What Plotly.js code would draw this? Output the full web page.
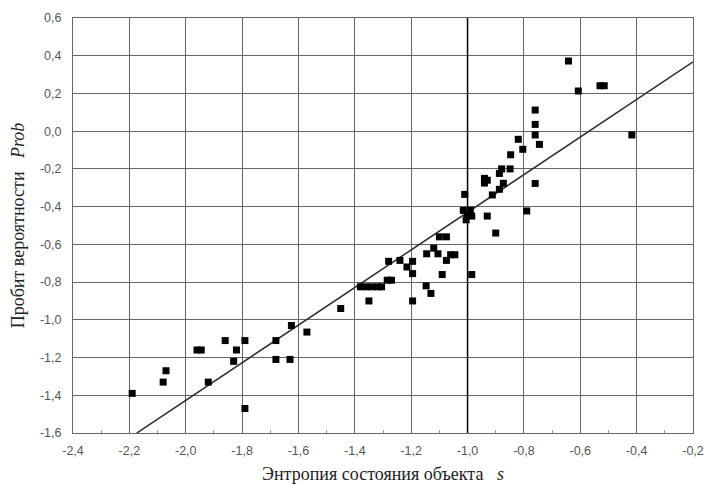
<!DOCTYPE html>
<html>
<head>
<meta charset="utf-8">
<script src="https://cdn.plot.ly/plotly-3.0.1.min.js"></script>
<style>
html,body{margin:0;padding:0;background:#fff;}
#chart{width:706px;height:484px;}
</style>
</head>
<body>
<div id="chart"></div>
<script>
// Entropy of object state s
const entropyS = [
  -2.19, -2.08, -2.07, -1.96, -1.945, -1.92, -1.86, -1.83, -1.82, -1.79,
  -1.79, -1.68, -1.68, -1.63, -1.625, -1.57, -1.45, -1.35, -1.38, -1.36,
  -1.34, -1.32, -1.305, -1.285, -1.27, -1.28, -1.24, -1.215, -1.195, -1.195,
  -1.195, -1.145, -1.105, -1.12, -1.10, -1.075, -1.075, -1.06, -1.045, -1.09,
  -1.147, -1.13, -0.985, -1.01, -1.015, -1.0, -0.99, -0.985, -1.005, -0.93,
  -0.90, -0.94, -0.94, -0.93, -0.912, -0.887, -0.873, -0.887, -0.879, -0.849,
  -0.847, -0.804, -0.82, -0.76, -0.76, -0.76, -0.745, -0.76, -0.79, -0.642,
  -0.607, -0.53, -0.515, -0.417
];
// Probit of probability Prob
const probitProb = [
  -1.39, -1.33, -1.27, -1.16, -1.16, -1.33, -1.11, -1.22, -1.16, -1.11,
  -1.47, -1.11, -1.21, -1.21, -1.03, -1.065, -0.94, -0.90, -0.825, -0.825,
  -0.825, -0.825, -0.825, -0.79, -0.79, -0.69, -0.685, -0.72, -0.69, -0.755,
  -0.90, -0.65, -0.65, -0.62, -0.56, -0.56, -0.685, -0.655, -0.655, -0.76,
  -0.82, -0.86, -0.76, -0.335, -0.42, -0.44, -0.42, -0.45, -0.47, -0.45,
  -0.54, -0.25, -0.275, -0.26, -0.338, -0.308, -0.276, -0.224, -0.20, -0.20,
  -0.125, -0.096, -0.043, 0.112, 0.036, -0.02, -0.07, -0.277, -0.423, 0.372,
  0.213, 0.241, 0.241, -0.02
];
// Regression line parameters
const fitSlope = 0.997;
const fitIntercept = 0.567;
const fitRange = [-2.174, -0.2];

// Tick values and labels
const xTickVals = [-2.4, -2.2, -2.0, -1.8, -1.6, -1.4, -1.2, -1.0, -0.8, -0.6, -0.4, -0.2];
const xTickText = ["-2,4", "-2,2", "-2,0", "-1,8", "-1,6", "-1,4", "-1,2", "-1,0", "-0,8", "-0,6", "-0,4", "-0,2"];
const yTickVals = [-1.6, -1.4, -1.2, -1.0, -0.8, -0.6, -0.4, -0.2, 0.0, 0.2, 0.4, 0.6];
const yTickText = ["-1,6", "-1,4", "-1,2", "-1,0", "-0,8", "-0,6", "-0,4", "-0,2", "0,0", "0,2", "0,4", "0,6"];
const xMinorVals = [-2.3, -2.1, -1.9, -1.7, -1.5, -1.3, -1.1, -0.9, -0.7, -0.5, -0.3];

const fitY = fitRange.map(x => fitSlope * x + fitIntercept);

const traces = [
  {
    x: fitRange, y: fitY, mode: 'lines', type: 'scatter',
    line: {color: '#333', width: 1.6},
    hoverinfo: 'skip', showlegend: false
  },
  {
    x: entropyS, y: probitProb, mode: 'markers', type: 'scatter',
    marker: {symbol: 'square', size: 7, color: '#000'},
    showlegend: false
  }
];

const tickFont = {family: 'Liberation Sans, Arial, sans-serif', size: 12.5, color: '#555'};
const titleFont = {family: 'Liberation Serif, Times New Roman, serif', size: 18, color: '#222'};

const layout = {
  width: 706, height: 484,
  margin: {l: 73, r: 13, t: 18, b: 51},
  paper_bgcolor: '#fff', plot_bgcolor: '#fff',
  showlegend: false,
  xaxis: {
    range: [-2.4, -0.2],
    tickmode: 'array', tickvals: xTickVals, ticktext: xTickText,
    showgrid: true, gridcolor: '#666', gridwidth: 1,
    zeroline: false,
    showline: true, linecolor: '#666', linewidth: 1, mirror: true,
    ticks: '', tickfont: tickFont, ticklabelstandoff: 6,
    minor: {tickmode: 'array', tickvals: xMinorVals, ticks: 'inside', ticklen: 3, tickcolor: '#999', showgrid: false},
    title: {text: 'Энтропия состояния объекта&nbsp;&nbsp;&nbsp;<i>s</i>', font: titleFont, standoff: 11}
  },
  yaxis: {
    range: [-1.6, 0.6],
    tickmode: 'array', tickvals: yTickVals, ticktext: yTickText,
    showgrid: true, gridcolor: '#666', gridwidth: 1,
    zeroline: false,
    showline: true, linecolor: '#666', linewidth: 1, mirror: true,
    ticks: '', tickfont: tickFont, ticklabelstandoff: 8,
    title: {text: 'Пробит вероятности&nbsp;&nbsp;&nbsp;<i>Prob</i>', font: titleFont, standoff: 10}
  },
  shapes: [
    {type: 'line', xref: 'x', yref: 'paper', x0: -1.0, x1: -1.0, y0: 0, y1: 1,
     line: {color: '#000', width: 1.5}, layer: 'above'}
  ]
};

Plotly.newPlot('chart', traces, layout, {displayModeBar: false, staticPlot: true});
</script>
</body>
</html>
